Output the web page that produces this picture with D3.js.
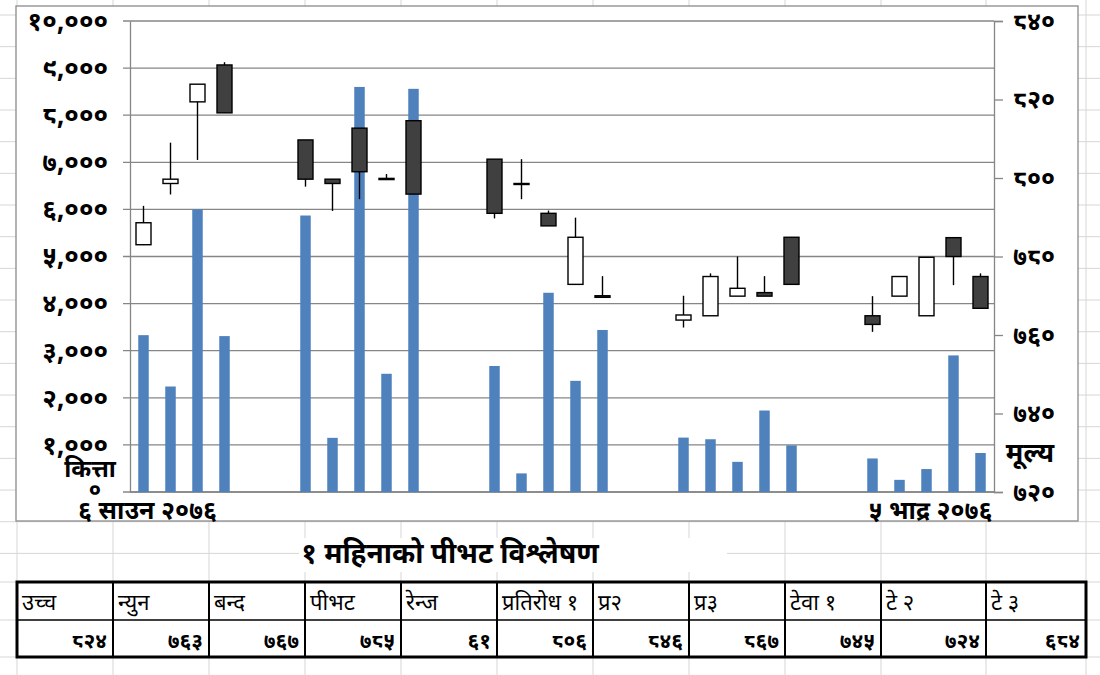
<!DOCTYPE html>
<html lang="ne">
<head>
  <meta charset="utf-8">
  <title>१ महिनाको पीभट विश्लेषण</title>
  <script src="https://d3js.org/d3.v7.min.js"></script>
  <style>
    * { box-sizing: border-box; margin: 0; padding: 0; }
    html, body { background: #fff; width: 1100px; height: 675px; overflow: hidden; }
    svg text {
      font-family: "Noto Sans Devanagari", "Lohit Devanagari", Mangal, "Noto Sans", sans-serif;
      fill: #000;
    }
  </style>
</head>
<body>
<svg id="sheet" width="1100" height="675"></svg>

<script>
// day 0 = ६ साउन २०७६, last day = ५ भाद्र २०७६ (gaps are holidays)
const tradeDay = [0, 1, 2, 3, 6, 7, 8, 9, 10, 13, 14, 15, 16, 17, 20, 21, 22, 23, 24, 27, 28, 29, 30, 31];
const volume   = [3330, 2240, 6000, 3310, 5870, 1150, 8600, 2510, 8560, 2675, 395, 4230, 2360, 3440,
                  1155, 1120, 640, 1730, 990, 712, 258, 487, 2900, 828];
const open     = [783.0, 798.6, 819.4, 828.8, 809.7, 799.7, 812.7, 799.9, 814.6, 804.8, 798.6, 791.0,
                  772.9, 770.0, 763.8, 764.9, 769.9, 770.8, 784.9, 764.9, 769.9, 764.9, 784.8, 774.9];
const high     = [792.9, 809.0, 823.9, 829.5, 809.7, 799.7, 812.7, 801.0, 814.6, 804.8, 804.8, 791.7,
                  789.9, 775.0, 770.0, 775.7, 780.0, 775.0, 784.9, 769.9, 774.9, 779.8, 784.8, 775.7];
const low      = [782.9, 795.8, 804.6, 816.6, 797.8, 791.6, 794.6, 799.6, 795.9, 789.7, 794.6, 787.8,
                  772.9, 769.6, 761.9, 764.9, 769.9, 769.9, 772.9, 760.8, 769.9, 764.9, 772.7, 766.8];
const close    = [788.6, 799.7, 823.9, 816.6, 799.7, 798.6, 801.6, 799.6, 795.9, 791.0, 798.4, 787.8,
                  784.9, 769.6, 765.1, 774.9, 771.9, 769.9, 772.9, 762.7, 774.9, 779.8, 780.0, 766.8];

const dayCount   = 32;
const dateLabels = [{ day: 0, text: "६ साउन २०७६" }, { day: 29, text: "५ भाद्र २०७६" }];
const volTicks   = [0, 1000, 2000, 3000, 4000, 5000, 6000, 7000, 8000, 9000, 10000];
const priceTicks = [720, 740, 760, 780, 800, 820, 840];

const chartTitle = "१ महिनाको पीभट विश्लेषण";
const tableHead  = ["उच्च", "न्युन", "बन्द", "पीभट", "रेन्ज", "प्रतिरोध १", "प्र२", "प्र३", "टेवा १", "टे २", "टे ३"];
const tableVal   = [824, 763, 767, 785, 61, 806, 846, 867, 745, 724, 684];

// ---------------------------------------------------------------
const devaDigits = "०१२३४५६७८९";
const deva = s => String(s).replace(/\d/g, d => devaDigits[d]);

const svg = d3.select("#sheet");

// spreadsheet cell grid behind everything
const colEdges = [17, 113, 209, 305, 401, 497, 593, 689, 785, 881, 986, 1086];
const rowEdges = d3.range(15, 560, 31.67).concat([582, 620, 657]);
const grid = svg.append("g").attr("stroke", "#d6d6d6").attr("stroke-width", 1);
grid.selectAll("line.c").data(colEdges).join("line")
  .attr("x1", d => d).attr("x2", d => d).attr("y1", 0).attr("y2", 675);
grid.selectAll("line.r").data(rowEdges).join("line")
  .attr("x1", 0).attr("x2", 1100).attr("y1", d => d).attr("y2", d => d);

// chart object
svg.append("rect")
  .attr("x", 16).attr("y", 6).attr("width", 1062).attr("height", 515)
  .attr("fill", "#fff").attr("stroke", "#8a8a8a").attr("stroke-width", 1.3);

const plot = { left: 130, right: 994, top: 21, bottom: 492 };

const x = d3.scaleBand().domain(d3.range(dayCount)).range([plot.left, plot.right]);
const yVol = d3.scaleLinear().domain([0, 10000]).range([plot.bottom, plot.top]);
const yPrice = d3.scaleLinear().domain([720, 840]).range([plot.bottom, plot.top]);
const cx = d => x(d) + x.bandwidth() / 2;

// horizontal gridlines
svg.append("g").selectAll("line").data(volTicks).join("line")
  .attr("x1", plot.left - 7).attr("x2", plot.right)
  .attr("y1", d => yVol(d)).attr("y2", d => yVol(d))
  .attr("stroke", "#868686").attr("stroke-width", 1.3);

// axes
const leftAxis = svg.append("g")
  .attr("transform", `translate(${plot.left},0)`)
  .call(d3.axisLeft(yVol).tickValues(volTicks).tickSize(0).tickPadding(22)
    .tickFormat(d => deva(d3.format(",")(d))));
leftAxis.select(".domain").attr("stroke", "#868686").attr("stroke-width", 1.3);
leftAxis.selectAll("text")
  .attr("font-size", 26).attr("font-weight", "bold");
leftAxis.selectAll(".tick").filter(d => d === 0).select("text")
  .attr("font-size", 22).attr("dx", -7).attr("dy", "0.2em");

const rightAxis = svg.append("g")
  .attr("transform", `translate(${plot.right},0)`)
  .call(d3.axisRight(yPrice).tickValues(priceTicks).tickSize(9).tickPadding(10)
    .tickFormat(deva));
rightAxis.selectAll("line, .domain").attr("stroke", "#868686").attr("stroke-width", 1.3);
rightAxis.selectAll("text")
  .attr("font-size", 25).attr("font-weight", "bold");

svg.append("line")
  .attr("x1", plot.left).attr("x2", plot.right)
  .attr("y1", plot.bottom).attr("y2", plot.bottom)
  .attr("stroke", "#868686").attr("stroke-width", 1.3);

// volume columns
const rows = tradeDay.map((d, i) => ({
  day: d, vol: volume[i], o: open[i], h: high[i], l: low[i], c: close[i]
}));

const barW = 10.5;
svg.append("g").selectAll("rect").data(rows).join("rect")
  .attr("x", d => cx(d.day) - barW / 2)
  .attr("width", barW)
  .attr("y", d => yVol(d.vol))
  .attr("height", d => yVol(0) - yVol(d.vol))
  .attr("fill", "#4f81bd");

// candlesticks
const boxW = 15;
const candles = svg.append("g").selectAll("g").data(rows).join("g");
candles.append("line")
  .attr("x1", d => cx(d.day)).attr("x2", d => cx(d.day))
  .attr("y1", d => yPrice(d.h)).attr("y2", d => yPrice(d.l))
  .attr("stroke", "#000").attr("stroke-width", 1.4);
candles.append("rect")
  .attr("x", d => cx(d.day) - boxW / 2)
  .attr("width", boxW)
  .attr("y", d => yPrice(Math.max(d.o, d.c)))
  .attr("height", d => Math.max(1, Math.abs(yPrice(d.o) - yPrice(d.c))))
  .attr("fill", d => d.c >= d.o ? "#fff" : "#404040")
  .attr("stroke", "#000").attr("stroke-width", 1.4);

// axis titles and dates
svg.append("text").text("कित्ता")
  .attr("x", 90).attr("y", 477).attr("text-anchor", "middle")
  .attr("font-size", 24).attr("font-weight", "bold");
svg.append("text").text("मूल्य")
  .attr("x", 1030).attr("y", 462).attr("text-anchor", "middle")
  .attr("font-size", 27).attr("font-weight", "bold");

svg.append("g").selectAll("text").data(dateLabels).join("text")
  .text(d => d.text)
  .attr("x", d => cx(d.day) + 4).attr("y", 519)
  .attr("text-anchor", "middle")
  .attr("font-size", 25).attr("font-weight", "bold");

// title below the chart, with the cell lines hidden where the text overflows
const titleBg = svg.append("rect").attr("fill", "#fff");
const titleText = svg.append("text").text(chartTitle)
  .attr("x", 450).attr("y", 563).attr("text-anchor", "middle")
  .attr("font-size", 28).attr("font-weight", "bold");
const tb = titleText.node().getBBox();
titleBg.attr("x", tb.x - 2).attr("y", tb.y + 2)
  .attr("width", 729 - tb.x).attr("height", tb.height - 4);

// summary table
const tTop = 582, tMid = 620, tBot = 657;
const cols = tableHead.map((h, i) => ({ head: h, val: tableVal[i], x0: colEdges[i], x1: colEdges[i + 1] }));
const tLeft = colEdges[0], tRight = colEdges[colEdges.length - 1];

const table = svg.append("g");
table.append("rect")
  .attr("x", tLeft).attr("y", tTop)
  .attr("width", tRight - tLeft).attr("height", tBot - tTop)
  .attr("fill", "#fff");
table.selectAll("line.v").data(colEdges.slice(1, -1)).join("line")
  .attr("x1", d => d).attr("x2", d => d).attr("y1", tTop).attr("y2", tBot)
  .attr("stroke", "#000").attr("stroke-width", 2);
table.append("line")
  .attr("x1", tLeft).attr("x2", tRight)
  .attr("y1", tMid).attr("y2", tMid)
  .attr("stroke", "#000").attr("stroke-width", 1.5);
table.append("rect")
  .attr("x", tLeft).attr("y", tTop)
  .attr("width", tRight - tLeft).attr("height", tBot - tTop)
  .attr("fill", "none").attr("stroke", "#000").attr("stroke-width", 3);

table.append("g").selectAll("text").data(cols).join("text")
  .text(d => d.head)
  .attr("x", d => d.x0 + 5).attr("y", tMid - 10)
  .attr("font-size", 22);
table.append("g").selectAll("text").data(cols).join("text")
  .text(d => deva(d.val))
  .attr("x", d => d.x1 - 6).attr("y", tBot - 9)
  .attr("text-anchor", "end")
  .attr("font-size", 21).attr("font-weight", "bold");
</script>
</body>
</html>
